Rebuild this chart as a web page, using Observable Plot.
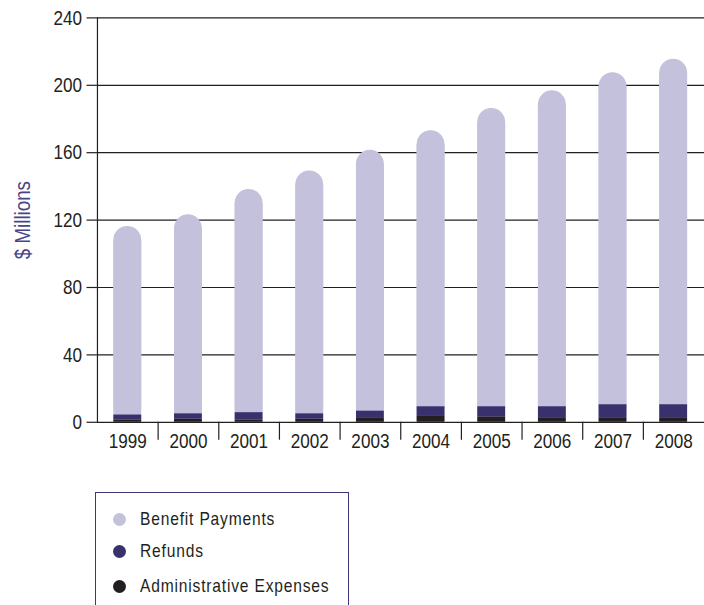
<!DOCTYPE html>
<html>
<head>
<meta charset="utf-8">
<script src="https://cdn.jsdelivr.net/npm/d3@7"></script>
<script src="https://cdn.jsdelivr.net/npm/@observablehq/plot@0.6"></script>
<style>
  html, body { margin: 0; padding: 0; background: #fff; overflow: hidden; width: 704px; height: 605px; }
  #chart { position: absolute; left: 0; top: 0; }
  .legend {
    position: absolute; left: 95px; top: 492px; width: 254px; height: 150px;
    border: 1.5px solid #3d3878; box-sizing: border-box; background: #fff;
    font-family: "Liberation Sans", Arial, sans-serif;
    font-size: 19px; color: #231f20;
  }
  .legend .item { position: absolute; left: 17px; height: 24px; display: flex; align-items: center; white-space: nowrap; }
  .legend .sw { width: 13px; height: 13px; border-radius: 50%; margin-right: 14px; flex: none; }
  .legend .name { display: inline-block; letter-spacing: 1px; transform: scaleX(0.82); transform-origin: left center; }
</style>
</head>
<body>
<div id="chart"></div>
<div class="legend" id="legend"></div>
<script>
// Pension fund outflows by year, $ millions
const years = ["1999", "2000", "2001", "2002", "2003", "2004", "2005", "2006", "2007", "2008"];
const benefitPayments = [111.9, 118.1, 132.5, 144.2, 154.8, 163.9, 177.1, 187.5, 197.1, 205.1];
const refunds = [3.0, 3.1, 4.4, 3.1, 3.9, 5.3, 6.0, 6.5, 7.7, 7.7];
const adminExpenses = [1.3, 1.9, 1.3, 1.9, 2.7, 3.9, 3.2, 2.7, 2.7, 2.7];

const seriesNames = ["Benefit Payments", "Refunds", "Administrative Expenses"];
const seriesColors = ["#c3c1db", "#38316e", "#231f20"];
const yTicks = [0, 40, 80, 120, 160, 200, 240];
const yLabel = "$ Millions";

const width = 708, height = 460;
const marginLeft = 97.5, marginRight = 0;
const step = (width - marginLeft - marginRight) / years.length;
const barPad = 0.54;
const font = "'Liberation Sans', Arial, sans-serif";

// Lower stacked segments: expenses at the base, refunds above
const lower = years.flatMap((year, i) => [
  {year, series: seriesNames[2], value: adminExpenses[i]},
  {year, series: seriesNames[1], value: refunds[i]}
]);
const totals = years.map((year, i) => ({
  year, total: benefitPayments[i] + refunds[i] + adminExpenses[i]
}));

const chart = Plot.plot({
  width, height,
  marginLeft, marginRight,
  marginTop: 17.5,
  marginBottom: 35.8,
  style: {fontFamily: font, fontSize: "21px", color: "#231f20", background: "#fff"},
  // each year gets an equal cell with its column centred in it
  x: {domain: years, paddingInner: barPad, paddingOuter: barPad / 2, label: null},
  y: {domain: [0, 240], label: null},
  color: {domain: seriesNames, range: seriesColors},
  marks: [
    Plot.ruleY(yTicks, {stroke: "#231f20", strokeWidth: 1.2}),
    Plot.frame({anchor: "left", stroke: "#231f20", strokeWidth: 1.2}),
    // benefit column: rounded cap over a square body
    Plot.barY(totals, {x: "year", y: "total", fill: seriesColors[0], rx: 14}),
    Plot.barY(totals, {x: "year", y: "total", fill: seriesColors[0], insetTop: 14}),
    Plot.barY(lower, {x: "year", y: "value", fill: "series", order: [seriesNames[2], seriesNames[1]]}),
    Plot.axisY({ticks: yTicks, tickSize: 10.5, tickPadding: 5, label: null, stroke: "#231f20", strokeWidth: 1.2}),
    // separators between year cells
    Plot.axisX({ticks: years.slice(0, -1), tickSize: 18, tickFormat: () => "", dx: step / 2, label: null, stroke: "#231f20", strokeWidth: 1.2}),
    Plot.axisX({tickSize: 0, tickPadding: 11, label: null}),
    Plot.text([yLabel], {frameAnchor: "left", textAnchor: "middle", rotate: -90, dx: -75.5, fontSize: 23, fill: "#4a4588", fontFamily: font})
  ]
});

// narrow the type horizontally, about each label's own anchor point
chart.querySelectorAll("text").forEach(t => {
  const xAttr = t.getAttribute("x");
  const x = xAttr != null && isFinite(+xAttr) ? +xAttr : 0;
  if (x) t.removeAttribute("x");
  const tr = t.getAttribute("transform") || "";
  t.setAttribute("transform", `${tr}${x ? ` translate(${x},0)` : ""} scale(0.82,1)`);
});
document.getElementById("chart").appendChild(chart);

// Legend
const legend = document.getElementById("legend");
const itemTops = [14, 46, 81];
seriesNames.forEach((name, i) => {
  const item = document.createElement("div");
  item.className = "item";
  item.style.top = itemTops[i] + "px";
  const sw = document.createElement("span");
  sw.className = "sw";
  sw.style.background = seriesColors[i];
  const label = document.createElement("span");
  label.className = "name";
  label.textContent = name;
  item.append(sw, label);
  legend.appendChild(item);
});
</script>
</body>
</html>
